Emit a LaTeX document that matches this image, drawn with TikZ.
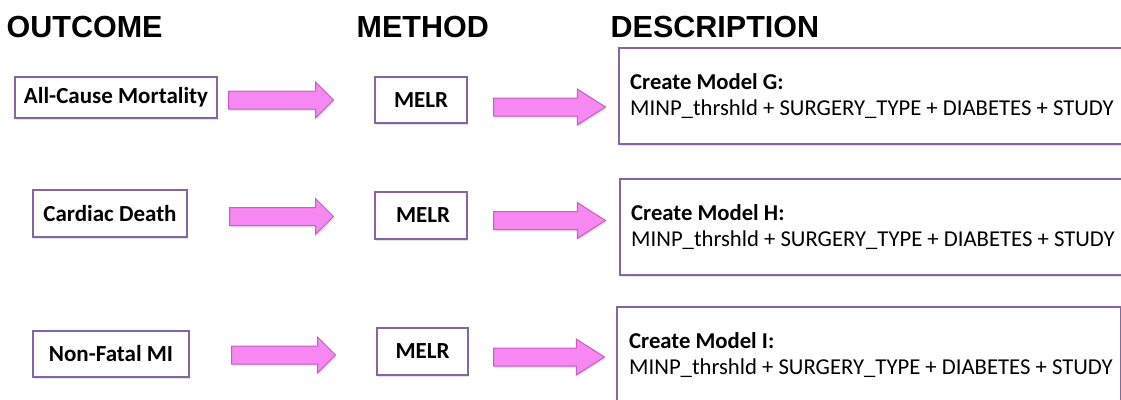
\documentclass[tikz,border=0pt]{standalone}
\usepackage{fontspec}
\setmainfont{Carlito}
\newfontfamily\headfont{Liberation Sans}
\usetikzlibrary{positioning,shapes.arrows,shadows}
\definecolor{boxline}{HTML}{8466A6}
\definecolor{arrfill}{HTML}{F788F2}
\definecolor{arrline}{HTML}{C35EC3}

\begin{document}
\begin{tikzpicture}[x=1pt, y=-1pt,
  head/.style={font=\fontsize{30.5}{36}\selectfont\headfont\bfseries, anchor=base west, inner sep=0pt},
  softshadow/.style={drop shadow={shadow xshift=1pt, shadow yshift=-2pt, opacity=0.22}},
  outbox/.style={draw=boxline, line width=1.6pt, fill=white, inner sep=0pt, softshadow, font=\fontsize{23}{27}\selectfont\bfseries},
  descbox/.style={outbox, anchor=north west, minimum height=96pt},
  desctext/.style={anchor=west, align=left, inner sep=0pt, font=\fontsize{22.7}{26}\selectfont},
  fatarrow/.style={single arrow, draw=arrline, fill=arrfill, line width=1pt, inner xsep=0pt, inner ysep=8.5pt, anchor=tail, single arrow head extend=9pt, softshadow},
  longhead/.style={fatarrow, single arrow tip angle=65}]
\useasboundingbox (0,0) rectangle (1121,399);
\node[head] (hout) at (6.5,37) {OUTCOME};
\node[head] (hmeth) at (356.5,37) {METHOD};
\node[head] (hdesc) at (610.5,37) {DESCRIPTION};

\node[outbox, minimum width=202pt, minimum height=41pt] (out1) at (116,97.5) {All-Cause Mortality};
\node[outbox, minimum width=154pt, minimum height=47pt] (out2) at (110,213.5) {Cardiac Death};
\node[outbox, minimum width=156pt, minimum height=46pt] (out3) at (111,354) {Non-Fatal MI};

\node[outbox, minimum width=92pt, minimum height=46pt] (mel1) at (421,100) {MELR};
\node[outbox, minimum width=92pt, minimum height=47pt] (mel2) at (421,215.5) {\hspace{4pt}MELR};
\node[outbox, minimum width=91pt, minimum height=47pt] (mel3) at (422.5,351.5) {MELR};

\node[fatarrow, minimum height=105pt] (arr1a) at (228,100) {};
\node[fatarrow, minimum height=104pt] (arr2a) at (229,216.5) {};
\node[fatarrow, minimum height=104pt] (arr3a) at (231,355) {};
\node[longhead, minimum height=112pt] (arr1b) at (493,107) {};
\node[longhead, minimum height=112pt] (arr2b) at (493,220.5) {};
\node[longhead, minimum height=111pt] (arr3b) at (493,357) {};

\node[descbox, minimum width=540pt] (desc1) at (618,47) {};
\node[descbox, minimum width=540pt] (desc2) at (619,178) {};
\node[descbox, minimum width=503.5pt, minimum height=110pt] (desc3) at (616,306) {};
\node[desctext] (txt1) at ([xshift=12pt]desc1.west) {\textbf{Create Model G:}\\MINP\_thrshld + SURGERY\_TYPE + DIABETES + STUDY};
\node[desctext] (txt2) at ([xshift=12pt]desc2.west) {\textbf{Create Model H:}\\MINP\_thrshld + SURGERY\_TYPE + DIABETES + STUDY};
\node[desctext] (txt3) at ([xshift=13pt,yshift=7pt]desc3.west) {\textbf{Create Model I:}\\MINP\_thrshld + SURGERY\_TYPE + DIABETES + STUDY};
\end{tikzpicture}
\end{document}
